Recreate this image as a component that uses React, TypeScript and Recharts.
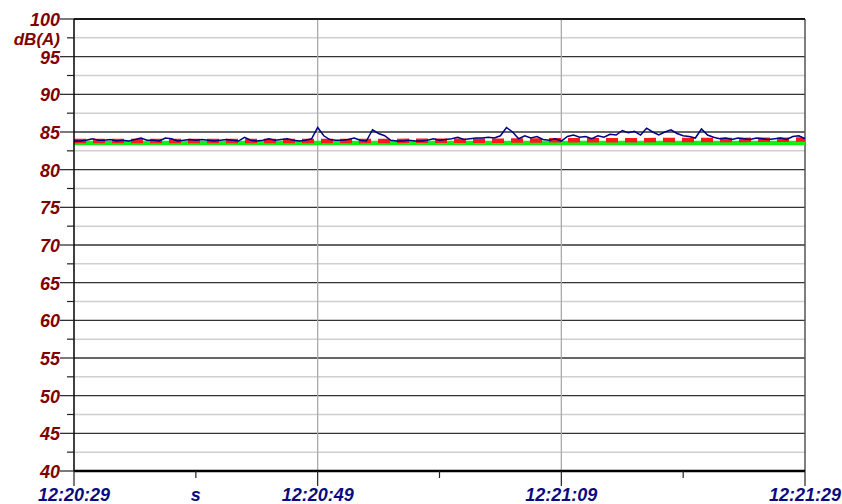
import React from 'react';
import {
  LineChart, Line, XAxis, YAxis, CartesianGrid, ReferenceLine
} from 'recharts';

// sound level, sampled every 0.5 s from 12:20:29
const levelDb = [
  83.8, 83.8, 83.9, 84.1, 83.9, 83.9, 84.0, 83.8, 83.9, 83.8,
  84.0, 84.2, 83.9, 83.9, 83.8, 84.2, 84.1, 83.8, 83.9, 84.0,
  83.9, 84.0, 83.9, 83.8, 83.9, 84.0, 83.9, 83.8, 84.3, 83.9,
  83.8, 83.9, 84.1, 83.9, 84.0, 84.1, 83.9, 83.8, 83.9, 84.1,
  85.6, 84.5, 84.0, 83.9, 83.9, 84.0, 84.2, 83.9, 83.8, 85.3,
  84.8, 84.5, 83.9, 83.8, 83.8, 83.9, 83.8, 83.8, 83.9, 84.1,
  83.9, 84.0, 84.1, 84.3, 84.0, 84.1, 84.2, 84.2, 84.3, 84.2,
  84.5, 85.6, 85.0, 84.1, 84.5, 84.2, 84.4, 84.0, 83.9, 84.1,
  83.8, 84.4, 84.6, 84.3, 84.4, 84.1, 84.5, 84.3, 84.7, 84.6,
  85.2, 84.9, 85.1, 84.6, 85.5, 85.0, 84.6, 85.0, 85.3, 84.8,
  84.5, 84.4, 84.2, 85.4, 84.6, 84.3, 84.1, 84.2, 84.0, 84.2,
  84.1, 84.0, 84.2, 84.1, 84.0, 84.1, 84.2, 84.0, 84.4, 84.5,
  84.1,
];
const sampleStep = 0.5;

// running Leq (red dashed), every 5 s
const leqTimes = [0, 5, 10, 15, 20, 25, 30, 35, 40, 45, 50, 55, 60];
const leqDb = [83.8, 83.8, 83.8, 83.8, 83.8, 83.8, 83.85, 83.85, 83.9, 83.9, 83.95, 83.95, 84.0];

// limit line (green)
const limitTimes = [0, 60];
const limitDb = [83.55, 83.55];

const xTicks = [0, 10, 20, 30, 40, 50, 60];
const xTickLabels = ['12:20:29', 's', '12:20:49', '', '12:21:09', '', '12:21:29'];
const yMajor = [40, 45, 50, 55, 60, 65, 70, 75, 80, 85, 90, 95, 100];
const yMinor = [42.5, 47.5, 52.5, 57.5, 62.5, 67.5, 72.5, 77.5, 82.5, 87.5, 92.5, 97.5];
const yUnit = 'dB(A)';

const levelData = levelDb.map((v, i) => ({ t: i * sampleStep, v }));
const leqData = leqTimes.map((t, i) => ({ t, v: leqDb[i] }));
const limitData = limitTimes.map((t, i) => ({ t, v: limitDb[i] }));

const font = '"Liberation Sans", Arial, Helvetica, sans-serif';

const YTick = (props: any) => {
  const { x, y, payload } = props;
  const val = payload.value as number;
  const major = val % 5 === 0;
  const label = major ? String(val) : val === 97.5 ? yUnit : '';
  return (
    <g>
      <line x1={x - (major ? 14 : 7)} x2={x} y1={y} y2={y} stroke="#222" strokeWidth={1.2} />
      {label && (
        <text x={x - 14} y={y + (major ? 7 : 7)} textAnchor="end" fill="#800000"
          fontFamily={font} fontWeight="bold" fontStyle="italic" fontSize={major ? 18 : 17}>{label}</text>
      )}
    </g>
  );
};

const XTick = (props: any) => {
  const { x, y, payload } = props;
  const idx = xTicks.indexOf(payload.value);
  const major = payload.value % 20 === 0;
  const label = xTickLabels[idx] || '';
  return (
    <g>
      <line x1={x} x2={x} y1={y} y2={y + (major ? 15 : 7)} stroke="#222" strokeWidth={1.2} />
      {label && (
        <text x={x} y={y + 30} textAnchor="middle" fill="#0a0a80"
          fontFamily={font} fontWeight="bold" fontStyle="italic" fontSize={18}>{label}</text>
      )}
    </g>
  );
};

export default function App() {
  return (
    <div style={{ position: 'absolute', left: 0, top: 0, width: 842, height: 504, background: '#fff' }}>
      <LineChart width={842} height={504} margin={{ top: 19, right: 37, left: 0, bottom: 0 }}>
        <CartesianGrid horizontalValues={yMinor} vertical={false} stroke="#cfcfcf" strokeWidth={1.5} />
        <CartesianGrid horizontalValues={yMajor} vertical={false} stroke="#333" strokeWidth={1.3} />
        <CartesianGrid verticalValues={[20, 40]} horizontal={false} stroke="#aaa" strokeWidth={1.3} />
        <ReferenceLine x={60} stroke="#555" strokeWidth={1.5} />
        <ReferenceLine y={100} stroke="#000" strokeWidth={1.5} />
        <XAxis type="number" dataKey="t" domain={[0, 60]} ticks={xTicks} allowDuplicatedCategory={false}
          height={33} tickSize={0} tickMargin={0} tick={<XTick />} interval={0}
          axisLine={{ stroke: '#000', strokeWidth: 2.5 }} />
        <YAxis type="number" domain={[40, 100]} ticks={[...yMajor, ...yMinor].sort((a, b) => a - b)}
          width={74} tickSize={0} tickMargin={0} tick={<YTick />} interval={0}
          axisLine={{ stroke: '#000', strokeWidth: 1.5 }} />
        <Line data={limitData} dataKey="v" type="linear" stroke="#12ee12" strokeWidth={4.5}
          dot={false} isAnimationActive={false} />
        <Line data={leqData} dataKey="v" type="linear" stroke="#ff1a1a" strokeWidth={4.5}
          strokeDasharray="12 7" dot={false} isAnimationActive={false} />
        <Line data={levelData} dataKey="v" type="linear" stroke="#000080" strokeWidth={1.5}
          dot={false} isAnimationActive={false} />
      </LineChart>
    </div>
  );
}
